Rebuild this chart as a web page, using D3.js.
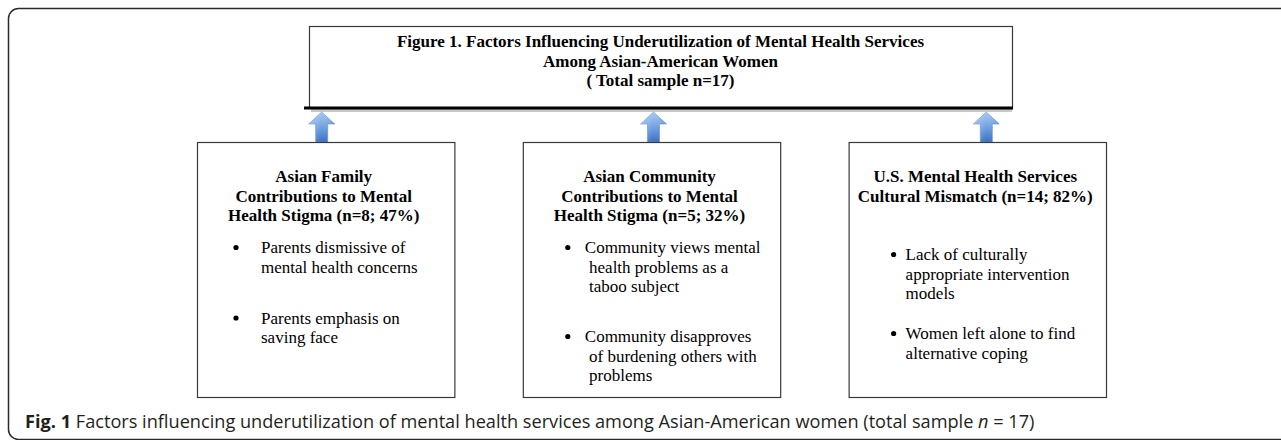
<!DOCTYPE html>
<html>
<head>
<meta charset="utf-8">
<script src="https://cdn.jsdelivr.net/npm/d3@7"></script>
<style>
  html, body { margin: 0; padding: 0; background: #fff; }
  svg { display: block; }
</style>
</head>
<body>
<svg id="chart" width="1281" height="440"></svg>
<script>
// ---------- data ----------
const titleLines = [
  "Figure 1. Factors Influencing Underutilization of Mental Health Services",
  "Among Asian-American Women",
  "( Total sample n=17)"
];
const totalN = 17;
const categories = ["family", "community", "services"];
const categoryTitles = [
  ["Asian Family", "Contributions to Mental", "Health Stigma"],
  ["Asian Community", "Contributions to Mental", "Health Stigma"],
  ["U.S. Mental Health Services", "Cultural Mismatch"]
];
const counts = [8, 5, 14];
const percents = [47, 32, 82];
const bullets = [
  [["Parents dismissive of", "mental health concerns"], ["Parents emphasis on", "saving face"]],
  [["Community views mental", " health problems as a", " taboo subject"], ["Community disapproves", " of burdening others with", " problems"]],
  [["Lack of culturally", "appropriate intervention", "models"], ["Women left alone to find", "alternative coping"]]
];
const captionBold = "Fig. 1";
const captionText = " Factors influencing underutilization of mental health services among Asian-American women (total sample ";

// ---------- layout ----------
const svg = d3.select("#chart");
const defs = svg.append("defs");
const grad = defs.append("linearGradient").attr("id", "arrowGrad")
  .attr("x1", "0").attr("y1", "0").attr("x2", "0").attr("y2", "1");
grad.append("stop").attr("offset", "0%").attr("stop-color", "#a9cbf2");
grad.append("stop").attr("offset", "55%").attr("stop-color", "#6b9de0");
grad.append("stop").attr("offset", "100%").attr("stop-color", "#3b6fc2");
const gradH = defs.append("linearGradient").attr("id", "arrowGradH")
  .attr("x1", "0").attr("y1", "0").attr("x2", "1").attr("y2", "0");
gradH.append("stop").attr("offset", "0%").attr("stop-color", "#ffffff").attr("stop-opacity", 0.25);
gradH.append("stop").attr("offset", "50%").attr("stop-color", "#ffffff").attr("stop-opacity", 0);
gradH.append("stop").attr("offset", "100%").attr("stop-color", "#000000").attr("stop-opacity", 0.1);

// outer rounded frame
svg.append("rect")
  .attr("x", 8.5).attr("y", 8.5).attr("width", 1300).attr("height", 431)
  .attr("rx", 10).attr("fill", "none").attr("stroke", "#2b2b2b").attr("stroke-width", 1.5);

// title box
const tb = {x0: 309, x1: 1012, y0: 26, y1: 108};
svg.append("rect").attr("x", tb.x0 + 2).attr("y", tb.y1 + 1).attr("width", tb.x1 - tb.x0 - 2).attr("height", 3)
  .attr("fill", "#c8c8c8");
svg.append("rect").attr("x", tb.x0 + 0.5).attr("y", tb.y0 + 0.5)
  .attr("width", tb.x1 - tb.x0).attr("height", tb.y1 - tb.y0)
  .attr("fill", "#fff").attr("stroke", "#3a3a3a").attr("stroke-width", 1.2);
svg.append("line").attr("x1", 304).attr("x2", tb.x1 + 1).attr("y1", tb.y1).attr("y2", tb.y1)
  .attr("stroke", "#000").attr("stroke-width", 3);

const titleCx = (tb.x0 + tb.x1) / 2;
svg.append("g").selectAll("text").data(titleLines).join("text")
  .attr("x", titleCx)
  .attr("y", (d, i) => 47 + i * 19.5)
  .attr("text-anchor", "middle")
  .attr("font-family", "Liberation Serif, 'Times New Roman', serif")
  .attr("font-weight", "bold")
  .attr("font-size", 17)
  .attr("fill", "#000")
  .text(d => d);

// boxes via band scale
const x = d3.scaleBand().domain(categories).range([197, 1106]).paddingInner(0.21).paddingOuter(0);
const boxTop = 142, boxBottom = 397;
const bulletOffset = [39, 45, 45];
const textOffset = [64, 62, 57];
const bulletStart = [253, 253, 260];
const bulletGap = [51, 50, 40];
const lineStep = 19.5;

const g = svg.append("g").selectAll("g").data(categories).join("g");

// arrows
const arrowShift = [-4, 2, 9];
g.each(function(d, i) {
  const cx = x(d) + x.bandwidth() / 2 + arrowShift[i];
  const sw = 12, hw = 26, top = 112, headB = 124, bot = boxTop;
  const p = d3.path();
  p.moveTo(cx, top);
  p.lineTo(cx + hw / 2, headB);
  p.lineTo(cx + sw / 2, headB);
  p.lineTo(cx + sw / 2, bot);
  p.lineTo(cx - sw / 2, bot);
  p.lineTo(cx - sw / 2, headB);
  p.lineTo(cx - hw / 2, headB);
  p.closePath();
  const sel = d3.select(this);
  sel.append("path").attr("d", p.toString()).attr("fill", "url(#arrowGrad)")
    .attr("stroke", "#5b8fd6").attr("stroke-width", 0.6);
  sel.append("path").attr("d", p.toString()).attr("fill", "url(#arrowGradH)");
});

g.append("rect")
  .attr("x", d => x(d) + 0.5).attr("y", boxTop + 0.5)
  .attr("width", x.bandwidth()).attr("height", boxBottom - boxTop)
  .attr("fill", "none").attr("stroke", "#3a3a3a").attr("stroke-width", 1.2);

g.each(function(d, i) {
  const sel = d3.select(this);
  const left = x(d), cx = left + x.bandwidth() / 2;
  const lines = categoryTitles[i].slice();
  lines[lines.length - 1] = lines[lines.length - 1] + " (n=" + counts[i] + "; " + percents[i] + "%)";
  sel.append("g").selectAll("text").data(lines).join("text")
    .attr("x", cx - 2)
    .attr("y", (t, j) => boxTop + 40 + j * lineStep)
    .attr("text-anchor", "middle")
    .attr("font-family", "Liberation Serif, 'Times New Roman', serif")
    .attr("font-weight", "bold")
    .attr("font-size", 17)
    .attr("fill", "#000")
    .text(t => t);

  let y = bulletStart[i];
  bullets[i].forEach((b, k) => {
    sel.append("circle")
      .attr("cx", left + bulletOffset[i]).attr("cy", y - 5.5)
      .attr("r", 2.6).attr("fill", "#000");
    b.forEach((ln, j) => {
      sel.append("text")
        .attr("x", left + textOffset[i]).attr("y", y + j * lineStep)
        .attr("font-family", "Liberation Serif, 'Times New Roman', serif")
        .attr("font-size", 17).attr("fill", "#000")
        .attr("xml:space", "preserve").style("white-space", "pre")
        .text(ln);
    });
    y += (b.length - 1) * lineStep + bulletGap[i];
  });
});

// caption
const cap = svg.append("text")
  .attr("x", 25).attr("y", 428)
  .attr("font-family", "'Open Sans', 'Noto Sans', sans-serif")
  .attr("font-size", 16)
  .attr("fill", "#231f20")
  .style("white-space", "pre");
cap.append("tspan").attr("font-weight", "bold").text(captionBold);
cap.append("tspan").text(captionText);
cap.append("tspan").attr("font-style", "italic").text("n");
cap.append("tspan").text(" = " + totalN + ")");
const targetW = 1010;
const w = cap.node().getComputedTextLength();
cap.attr("font-size", 16 * targetW / w);
</script>
</body>
</html>
